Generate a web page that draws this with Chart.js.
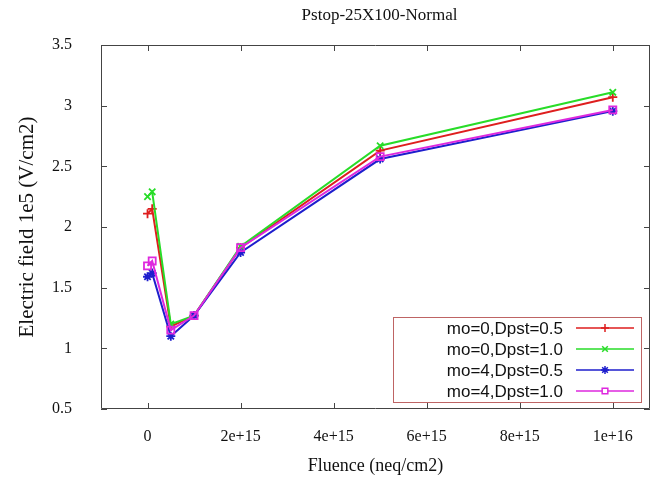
<!DOCTYPE html>
<html>
<head>
<meta charset="utf-8">
<script src="https://cdn.jsdelivr.net/npm/chart.js@4/dist/chart.umd.min.js"></script>
<style>
html,body{margin:0;padding:0;background:#fff;}
#wrap{width:650px;height:477px;}
</style>
</head>
<body>
<div id="wrap"><canvas id="c" width="650" height="477"></canvas></div>
<script>
// ---- data ----
const chartTitle = 'Pstop-25X100-Normal';
const xTitle = 'Fluence (neq/cm2)';
const yTitle = 'Electric field 1e5 (V/cm2)';
const fluence = [0, 1e14, 5e14, 1e15, 2e15, 5e15, 1e16];
const seriesNames = ['mo=0,Dpst=0.5', 'mo=0,Dpst=1.0', 'mo=4,Dpst=0.5', 'mo=4,Dpst=1.0'];
const mo0_d05 = [2.11, 2.15, 1.18, 1.27, 1.83, 2.63, 3.07];
const mo0_d10 = [2.25, 2.29, 1.20, 1.27, 1.84, 2.67, 3.11];
const mo4_d05 = [1.59, 1.62, 1.10, 1.27, 1.79, 2.56, 2.955];
const mo4_d10 = [1.68, 1.72, 1.15, 1.27, 1.83, 2.58, 2.965];
const xTickValues = [0, 2e15, 4e15, 6e15, 8e15, 1e16];
const xTickLabels = ['0', '2e+15', '4e+15', '6e+15', '8e+15', '1e+16'];
const yTickValues = [0.5, 1, 1.5, 2, 2.5, 3, 3.5];
const yTickLabels = ['0.5', '1', '1.5', '2', '2.5', '3', '3.5'];

const colors = ['rgb(222,30,30)', 'rgb(40,220,40)', 'rgb(30,30,205)', 'rgb(222,40,222)'];
const styles = ['cross', 'crossRot', 'star', 'rect'];
const allSeries = [mo0_d05, mo0_d10, mo4_d05, mo4_d10];
const orders = [3, 2, 1, 0];

const datasets = allSeries.map((s, i) => ({
  label: seriesNames[i],
  data: fluence.map((x, j) => ({x: x, y: s[j]})),
  borderColor: colors[i],
  backgroundColor: 'rgba(0,0,0,0)',
  borderWidth: 2,
  pointStyle: styles[i],
  pointRadius: i === 3 ? 5 : 4.5,
  pointBorderWidth: 1.8,
  pointBorderColor: colors[i],
  pointBackgroundColor: 'rgba(0,0,0,0)',
  tension: 0,
  order: orders[i],
  showLine: true
}));

const serif = "'Liberation Serif','Times New Roman',serif";
const sans = "'Liberation Sans',Arial,sans-serif";

const framePlugin = {
  id: 'frame',
  afterDraw(chart) {
    const ctx = chart.ctx;
    const a = chart.chartArea;
    const xs = chart.scales.x, ys = chart.scales.y;
    ctx.save();
    ctx.strokeStyle = '#444';
    ctx.lineWidth = 1;
    ctx.beginPath();
    ctx.rect(a.left + 0.5, a.top + 0.5, a.right - a.left - 1, a.bottom - a.top - 1);
    ctx.stroke();
    ctx.beginPath();
    xTickValues.forEach(v => {
      const px = Math.round(xs.getPixelForValue(v)) + 0.5;
      ctx.moveTo(px, a.bottom); ctx.lineTo(px, a.bottom - 6);
      ctx.moveTo(px, a.top); ctx.lineTo(px, a.top + 6);
    });
    yTickValues.forEach(v => {
      const py = Math.round(ys.getPixelForValue(v)) + 0.5;
      ctx.moveTo(a.left, py); ctx.lineTo(a.left + 6, py);
      ctx.moveTo(a.right, py); ctx.lineTo(a.right - 6, py);
    });
    ctx.stroke();

    // title
    ctx.fillStyle = '#111';
    ctx.font = '17px ' + serif;
    ctx.textAlign = 'center';
    ctx.textBaseline = 'middle';
    ctx.fillText(chartTitle, (a.left + a.right) / 2 + 4, 16);

    // legend
    const bx = a.right - 257, by = a.bottom - 92, bw = 248, bh = 85;
    ctx.fillStyle = '#fff';
    ctx.fillRect(bx, by, bw, bh);
    ctx.strokeStyle = 'rgb(190,100,100)';
    ctx.lineWidth = 1;
    ctx.strokeRect(bx + 0.5, by + 0.5, bw, bh);
    ctx.font = '17px ' + sans;
    ctx.textAlign = 'right';
    ctx.textBaseline = 'middle';
    seriesNames.forEach((name, i) => {
      const ry = by + 11 + i * 21;
      ctx.fillStyle = '#111';
      ctx.fillText(name, bx + 170, ry + 1);
      ctx.strokeStyle = colors[i];
      ctx.lineWidth = 1.5;
      ctx.beginPath();
      ctx.moveTo(bx + 183, ry); ctx.lineTo(bx + 241, ry);
      ctx.stroke();
      ctx.fillStyle = 'rgba(255,255,255,1)';
      Chart.helpers.drawPoint(ctx, {
        pointStyle: styles[i], radius: 4, borderWidth: 1.5
      }, bx + 212, ry);
    });
    ctx.restore();
  }
};

new Chart(document.getElementById('c'), {
  type: 'line',
  data: { datasets: datasets },
  options: {
    responsive: false,
    animation: false,
    layout: { autoPadding: false, padding: { top: 45, left: 0, right: 0, bottom: 0 } },
    plugins: { legend: { display: false }, title: { display: false }, tooltip: { enabled: false } },
    scales: {
      x: {
        type: 'linear',
        min: -1e15,
        max: 1.08e16,
        grid: { display: false, drawTicks: false },
        border: { display: false },
        afterBuildTicks: s => { s.ticks = xTickValues.map(v => ({ value: v })); },
        afterFit: s => { s.height = 68; s.paddingLeft = 0; s.paddingRight = 0; },
        ticks: {
          padding: 18,
          color: '#111',
          font: { family: serif, size: 16 },
          maxRotation: 0,
          autoSkip: false,
          callback: (v) => { const k = xTickValues.indexOf(v); return k >= 0 ? xTickLabels[k] : ''; }
        },
        title: { display: true, text: xTitle, color: '#111', font: { family: serif, size: 18 }, padding: { top: 0, bottom: 0 } }
      },
      y: {
        type: 'linear',
        min: 0.5,
        max: 3.5,
        grid: { display: false, drawTicks: false },
        border: { display: false },
        afterBuildTicks: s => { s.ticks = yTickValues.map(v => ({ value: v })); },
        afterFit: s => { s.width = 101; s.paddingTop = 0; s.paddingBottom = 0; },
        ticks: {
          padding: 29,
          color: '#111',
          font: { family: serif, size: 16 },
          autoSkip: false,
          callback: (v) => { const k = yTickValues.indexOf(v); return k >= 0 ? yTickLabels[k] : ''; }
        },
        title: { display: true, text: yTitle, color: '#111', font: { family: serif, size: 21 }, padding: { top: 15, bottom: 0 } }
      }
    }
  },
  plugins: [framePlugin]
});
</script>
</body>
</html>
